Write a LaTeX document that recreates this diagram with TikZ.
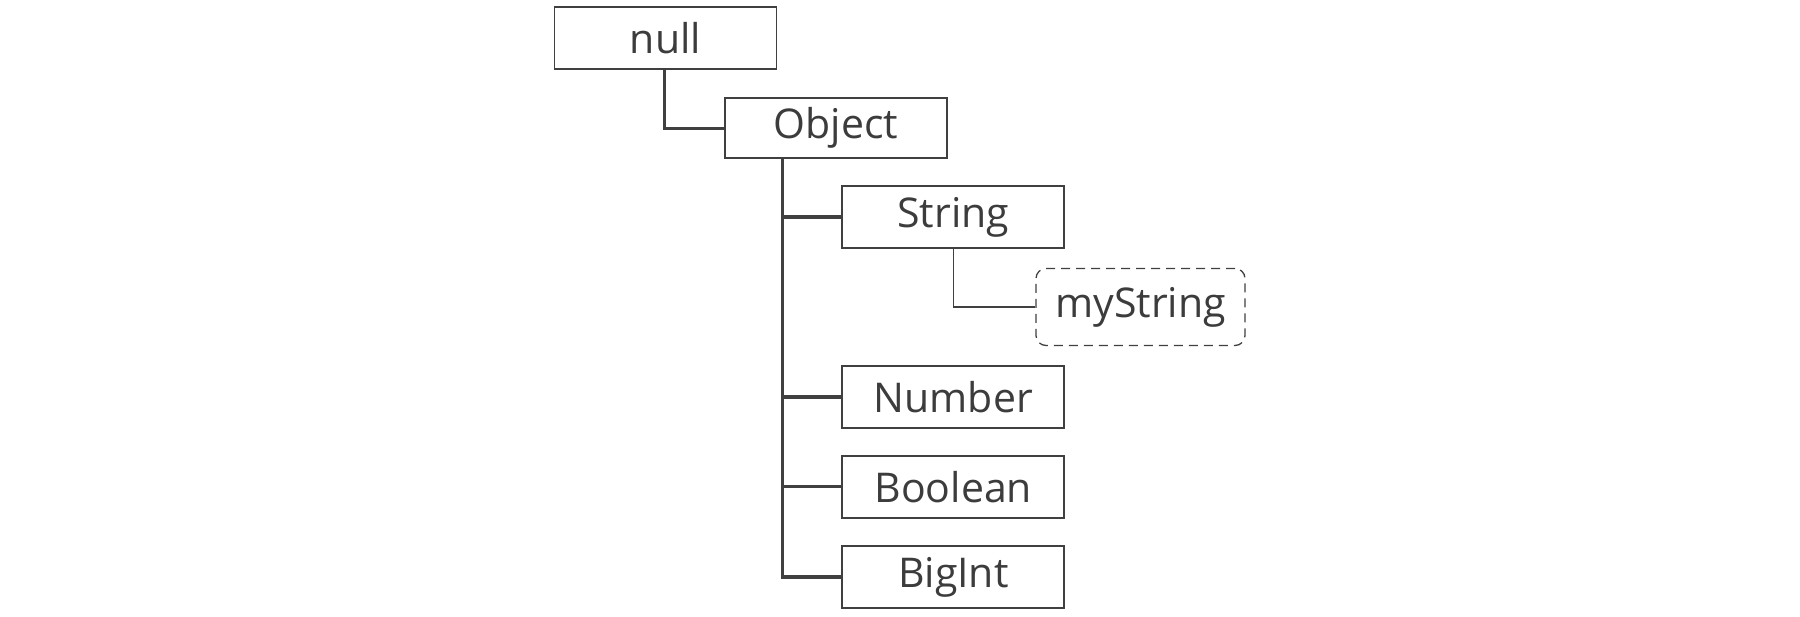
\documentclass[tikz,border=0pt]{standalone}
\usepackage{fontspec}
\setmainfont{Open Sans}
\definecolor{ink}{HTML}{3C3C3C}
\definecolor{edge}{HTML}{404040}
\begin{document}
\begin{tikzpicture}[x=1pt,y=-1pt,
  typebox/.style={draw=edge, line width=1.8pt, minimum width=222pt, minimum height=62pt,
    inner sep=0pt, text=ink, font=\fontsize{41}{48}\selectfont},
  valbox/.style={draw=edge, line width=1.3pt, dash pattern=on 9pt off 6pt, rounded corners=10pt,
    minimum width=209pt, minimum height=77pt, inner sep=0pt, text=ink, font=\fontsize{41}{48}\selectfont},
  link/.style={draw=edge, line width=3.2pt},
  thinlink/.style={draw=edge, line width=1.4pt}]
\useasboundingbox[fill=white] (0,0) rectangle (1800,617);
\node[typebox] (null) at (665.5,38.3) {null};
\node[typebox, minimum height=60pt] (Object) at (836,128.3) {Object};
\node[typebox] (String) at (953.3,217) {String};
\node[valbox] (myString) at (1140.5,307) {myString};
\node[typebox] (Number) at (953.3,397) {Number};
\node[typebox] (Boolean) at (953.3,486.7) {Boolean};
\node[typebox] (BigInt) at (953.3,577) {BigInt};
\coordinate (trunk) at (782.5,158.3);
\draw[link] (null.south -| 664.3,0) |- (Object.west);
\draw[link] (trunk) -- (trunk |- BigInt.west) -- (BigInt.west);
\draw[link] (trunk |- String.west) -- (String.west);
\draw[link] (trunk |- Number.west) -- (Number.west);
\draw[link] (trunk |- Boolean.west) -- (Boolean.west);
\draw[thinlink] (String.south) |- (myString.west);
\end{tikzpicture}
\end{document}
